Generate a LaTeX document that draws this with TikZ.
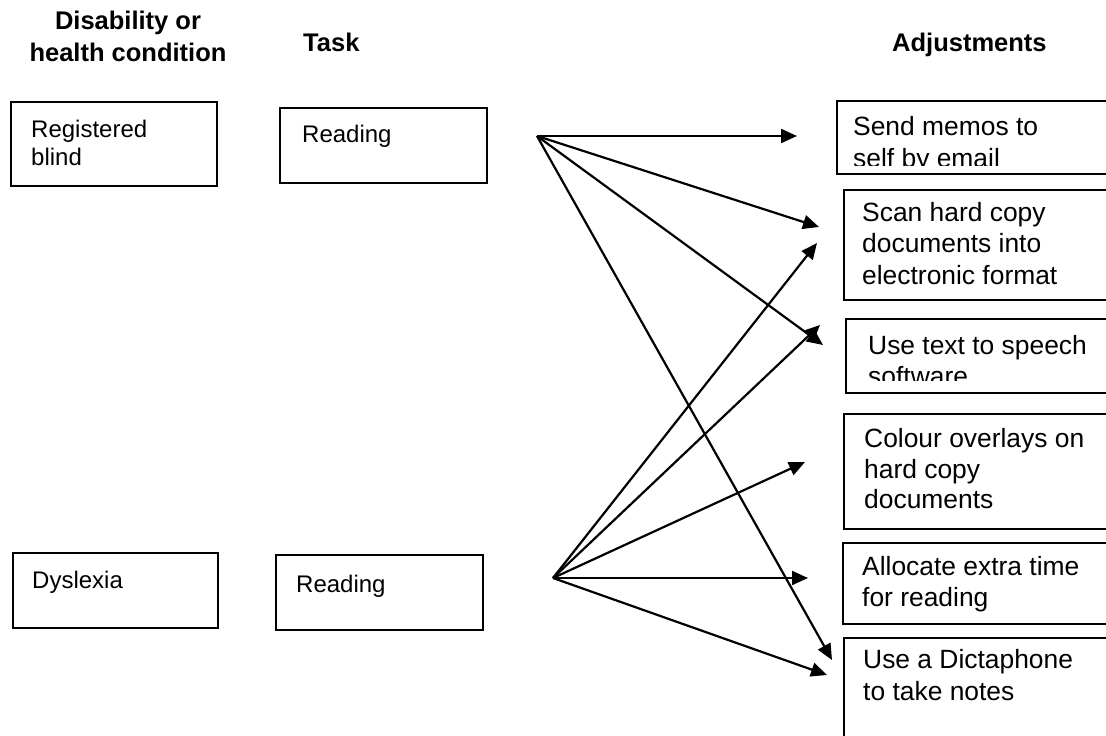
\documentclass[tikz,border=0pt]{standalone}
\usepackage{fontspec}
\setmainfont{Liberation Sans}
\usetikzlibrary{arrows.meta}
\begin{document}
\begin{tikzpicture}[x=1pt,y=-1pt,
 box/.style={draw, line width=2pt, anchor=north west, inner sep=0pt},
 lt/.style={anchor=base west, inner sep=0pt, font=\fontsize{24}{28}\selectfont},
 rt/.style={anchor=base west, inner sep=0pt, font=\fontsize{26.4}{31}\selectfont},
 hd/.style={anchor=base, inner sep=0pt, font=\bfseries\fontsize{25.5}{31}\selectfont},
 arr/.style={line width=2.2pt, -{Triangle[length=16pt,width=14pt]}}]
\useasboundingbox (0,0) rectangle (1106,736);
\clip (0,0) rectangle (1106,736);

% headers
\node[hd] (h1a) at (128,29) {Disability or};
\node[hd] (h1b) at (128,61) {health condition};
\node[hd, anchor=base west] (h2) at (303,51) {Task};
\node[hd, anchor=base west] (h3) at (892,51) {Adjustments};

% left boxes
\node[box, minimum width=206pt, minimum height=84pt] (rb) at (10,101) {};
\node[lt] (rbt1) at (31,137) {Registered};
\node[lt] (rbt2) at (31,165) {blind};
\node[box, minimum width=207pt, minimum height=75pt] (tr1) at (279,107) {};
\node[lt] (tr1t) at (302,142) {Reading};
\node[box, minimum width=205pt, minimum height=75pt] (dy) at (12,552) {};
\node[lt] (dyt) at (32,588) {Dyslexia};
\node[box, minimum width=207pt, minimum height=75pt] (tr2) at (275,554) {};
\node[lt] (tr2t) at (296,592) {Reading};

% right boxes
\node[box, minimum width=300pt, minimum height=73pt] (a1) at (836,100) {};
\node[rt] (a1t1) at (853,135) {Send memos to};
\begin{scope}
\clip (836,140) rectangle (1106,165);
\node[rt] (a1t2) at (853,167) {self by email};
\end{scope}
\node[box, minimum width=300pt, minimum height=110pt] (a2) at (843,189) {};
\node[rt] (a2t1) at (862,221) {Scan hard copy};
\node[rt] (a2t2) at (862,252) {documents into};
\node[rt] (a2t3) at (862,284) {electronic format};
\node[box, minimum width=300pt, minimum height=74pt] (a3) at (845,318) {};
\node[rt] (a3t1) at (868,354) {Use text to speech};
\begin{scope}
\clip (845,360) rectangle (1106,380);
\node[rt] (a3t2) at (868,385) {software};
\end{scope}
\node[box, minimum width=300pt, minimum height=115pt] (a4) at (843,413) {};
\node[rt] (a4t1) at (864,447) {Colour overlays on};
\node[rt] (a4t2) at (864,478) {hard copy};
\node[rt] (a4t3) at (864,508) {documents};
\node[box, minimum width=300pt, minimum height=81pt] (a5) at (842,542) {};
\node[rt] (a5t1) at (862,575) {Allocate extra time};
\node[rt] (a5t2) at (862,606) {for reading};
\node[box, minimum width=300pt, minimum height=120pt] (a6) at (843,637) {};
\node[rt] (a6t1) at (863,668) {Use a Dictaphone};
\node[rt] (a6t2) at (863,700) {to take notes};

% connectors
\coordinate (s1) at (537,136);
\coordinate (s2) at (553,578);
\coordinate (e11) at (797,136);
\coordinate (e12) at (819,227);
\coordinate (e13) at (823,345);
\coordinate (e14) at (832,660);
\coordinate (e21) at (817,243);
\coordinate (e22) at (820,325);
\coordinate (e23) at (805,462);
\coordinate (e24) at (808,578);
\coordinate (e25) at (827,675);
\draw[arr] (s1) -- (e11);
\draw[arr] (s1) -- (e12);
\draw[arr] (s1) -- (e13);
\draw[arr] (s1) -- (e14);
\draw[arr] (s2) -- (e21);
\draw[arr] (s2) -- (e22);
\draw[arr] (s2) -- (e23);
\draw[arr] (s2) -- (e24);
\draw[arr] (s2) -- (e25);
\end{tikzpicture}
\end{document}
